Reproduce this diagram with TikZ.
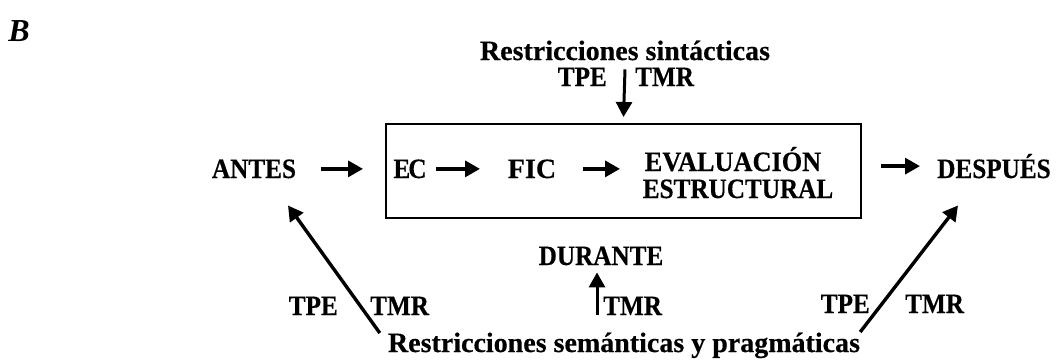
\documentclass[tikz,border=0pt]{standalone}
\usepackage{fontspec}
\setmainfont{Liberation Serif}[BoldFeatures={FakeBold=0.4}]
\newfontfamily\capsfont{Liberation Serif}[FakeStretch=0.9,BoldFeatures={FakeBold=0.4}]
\usetikzlibrary{arrows.meta,calc}
\begin{document}
\begin{tikzpicture}[x=1pt,y=-1pt,
  lbl/.style={font=\fontsize{28}{30}\selectfont\bfseries, inner sep=0pt, anchor=base},
  capslbl/.style={font=\capsfont\fontsize{28}{30}\selectfont\bfseries, inner sep=0pt, anchor=base},
  panellbl/.style={font=\fontsize{32}{36}\selectfont\bfseries\itshape, inner sep=0pt, anchor=base},
  arr/.style={line width=3.4pt, -{Triangle[length=15pt,width=16pt]}},
  varr/.style={line width=3pt, -{Triangle[length=15pt,width=16pt]}},
  frame/.style={draw, line width=2pt, inner sep=0pt}]
\useasboundingbox (0,0) rectangle (1058,359);
% panel label
\node[panellbl] (panel) at (19,41) {B};
% top constraints
\node[lbl] (syn) at (625,60) {Restricciones sintácticas};
\node[capslbl, anchor=base east] (tpe1) at (607,86) {TPE};
\node[capslbl, anchor=base west] (tmr1) at (635,86) {TMR};
% box
\node[frame, minimum width=475, minimum height=94] (box) at (623.5,171) {};
% main row
\node[capslbl] (antes) at (254,178) {ANTES};
\node[capslbl] (ec) at (410,178) {E\kern-2pt C};
\node[lbl] (fic) at (532,178) {FIC};
\node[lbl] (eval1) at (733,171) {\addfontfeature{FakeStretch=0.94}EVALUACIÓN};
\node[capslbl] (eval2) at (738,198) {ESTRUCTURAL};
\node[capslbl] (despues) at (994,178) {DESPUÉS};
% bottom
\node[capslbl] (durante) at (601,265) {DURANTE};
\node[capslbl, anchor=base west] (tmr2) at (603,315) {TMR};
\node[capslbl, anchor=base east] (tpe3) at (338,315) {TPE};
\node[capslbl, anchor=base west] (tmr3) at (370,315) {TMR};
\node[capslbl, anchor=base east] (tpe4) at (870,313) {TPE};
\node[capslbl, anchor=base west] (tmr4) at (905,313) {TMR};
\node[lbl] (sem) at (624,352) {Restricciones semánticas y pragmáticas};
% arrows
\draw[varr] ($(syn.south)+(0,9)$) -- ($(box.north)+(0,-6)$);
\draw[arr, shorten <=67pt, shorten >=47pt] (antes.center) -- (ec.center);
\draw[arr, shorten <=26pt, shorten >=52pt] (ec.center) -- (fic.center);
\draw[arr, shorten <=51pt, shorten >=113pt] (fic.center) -- (fic.center -| eval1.center);
\draw[arr, shorten <=19pt, shorten >=74pt] (box.east |- despues.center) -- (despues.center);
\draw[varr] ($(tmr2.base west)+(-6,0)$) -- ($(durante.south)+(-4,7)$);
\draw[arr] ($(sem.base west)+(-8,-19)$) -- ($(antes.south)+(34,27)$);
\draw[arr] ($(sem.base east)+(0,-20)$) -- ($(despues.south)+(-36,27)$);
\end{tikzpicture}
\end{document}
